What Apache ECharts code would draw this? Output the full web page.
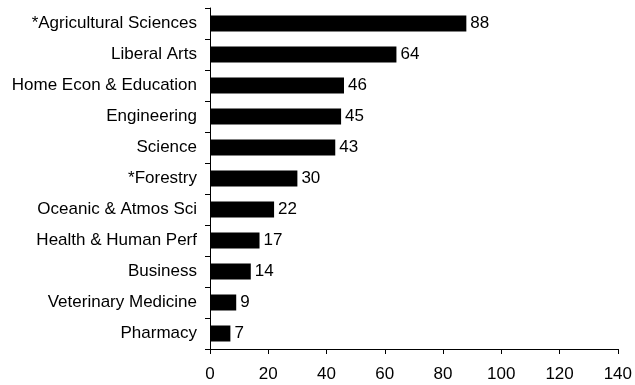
<!DOCTYPE html>
<html><head><meta charset="utf-8">
<script src="https://cdn.jsdelivr.net/npm/echarts@6/dist/echarts.min.js"></script>
<style>html,body{margin:0;padding:0;background:#fff}#c{width:635px;height:385px}</style>
</head><body><div id="c"></div>
<script>
const categories = ["*Agricultural Sciences","Liberal Arts","Home Econ & Education","Engineering","Science","*Forestry","Oceanic & Atmos Sci","Health & Human Perf","Business","Veterinary Medicine","Pharmacy"];
const values = [88,64,46,45,43,30,22,17,14,9,7];
const xTicks = [0,20,40,60,80,100,120,140];
const font = "'Liberation Sans', Arial, sans-serif";
const chart = echarts.init(document.getElementById('c'), null, {renderer:'canvas'});
chart.setOption({
  animation:false,
  grid:{left:210,right:13,top:8,bottom:36,containLabel:false},
  xAxis:{type:'value',min:xTicks[0],max:xTicks[xTicks.length-1],interval:20,
    axisLine:{show:true,lineStyle:{color:'#000',width:1}},
    axisTick:{show:true,length:5,lineStyle:{color:'#000'}},
    splitLine:{show:false},
    axisLabel:{color:'#000',fontFamily:font,fontSize:17,margin:17}},
  yAxis:{type:'category',data:categories,inverse:true,
    axisLine:{show:true,lineStyle:{color:'#000',width:1}},
    axisTick:{show:true,length:5,alignWithLabel:false,lineStyle:{color:'#000'}},
    axisLabel:{color:'#000',fontFamily:font,fontSize:17,margin:13}},
  series:[{type:'bar',data:values,barWidth:16,itemStyle:{color:'#000'},
    label:{show:true,position:'right',distance:4,color:'#000',fontFamily:font,fontSize:17}}]
});
</script></body></html>
